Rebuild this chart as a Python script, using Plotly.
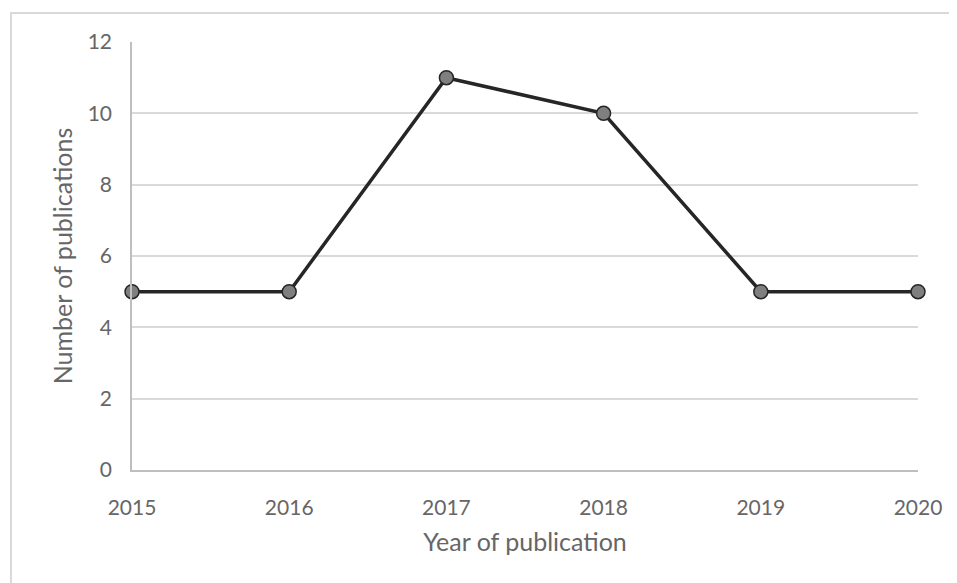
import plotly.graph_objects as go

years = [2015, 2016, 2017, 2018, 2019, 2020]
publications = [5, 5, 11, 10, 5, 5]
y_ticks = [0, 2, 4, 6, 8, 10, 12]

# page body has an 8px margin, so the figure starts at (8, 8)
OFF = 8
W, H = 957 - OFF, 583 - OFF
L, R, T, B = 132 - OFF, 39, 42 - OFF, 113
pw, ph = W - L - R, H - T - B

font_family = "Lato, 'Open Sans', sans-serif"
grey_text = "#666666"

fig = go.Figure()
fig.add_trace(go.Scatter(
    x=years, y=publications, mode="lines+markers",
    line=dict(color="#262626", width=3.5),
    marker=dict(size=14, color="#7f7f7f", line=dict(color="#262626", width=1.5)),
    cliponaxis=False, showlegend=False,
))

fig.update_layout(
    width=W, height=H,
    margin=dict(l=L, r=R, t=T, b=B),
    paper_bgcolor="white", plot_bgcolor="white",
    font=dict(family=font_family, color=grey_text),
    xaxis=dict(
        range=[2015, 2020], tickmode="array", tickvals=years,
        ticktext=[str(y) for y in years],
        showgrid=False, zeroline=False,
        showline=True, linecolor="#bfbfbf", linewidth=1.5,
        ticks="outside", ticklen=18, tickcolor="rgba(0,0,0,0)",
        tickfont=dict(size=21, color=grey_text),
        title=dict(text="Year of publication", font=dict(size=25, color=grey_text), standoff=16),
    ),
    yaxis=dict(
        range=[0, 12], tickmode="array", tickvals=y_ticks,
        showgrid=True, gridcolor="#d9d9d9", gridwidth=1.5,
        zeroline=False,
        showline=True, linecolor="#bfbfbf", linewidth=1.5,
        ticks="outside", ticklen=14, tickcolor="rgba(0,0,0,0)",
        tickfont=dict(size=21, color=grey_text),
        title=dict(text="Number of publications", font=dict(size=25, color=grey_text), standoff=8),
    ),
    shapes=[dict(
        type="rect", xref="paper", yref="paper",
        x0=(11 - OFF - L) / pw, x1=1.2, y0=-0.6, y1=1 + (T - (13 - OFF)) / ph,
        line=dict(color="#d9d9d9", width=2), fillcolor="rgba(0,0,0,0)", layer="below",
    )],
)

fig.write_html("out.html")
